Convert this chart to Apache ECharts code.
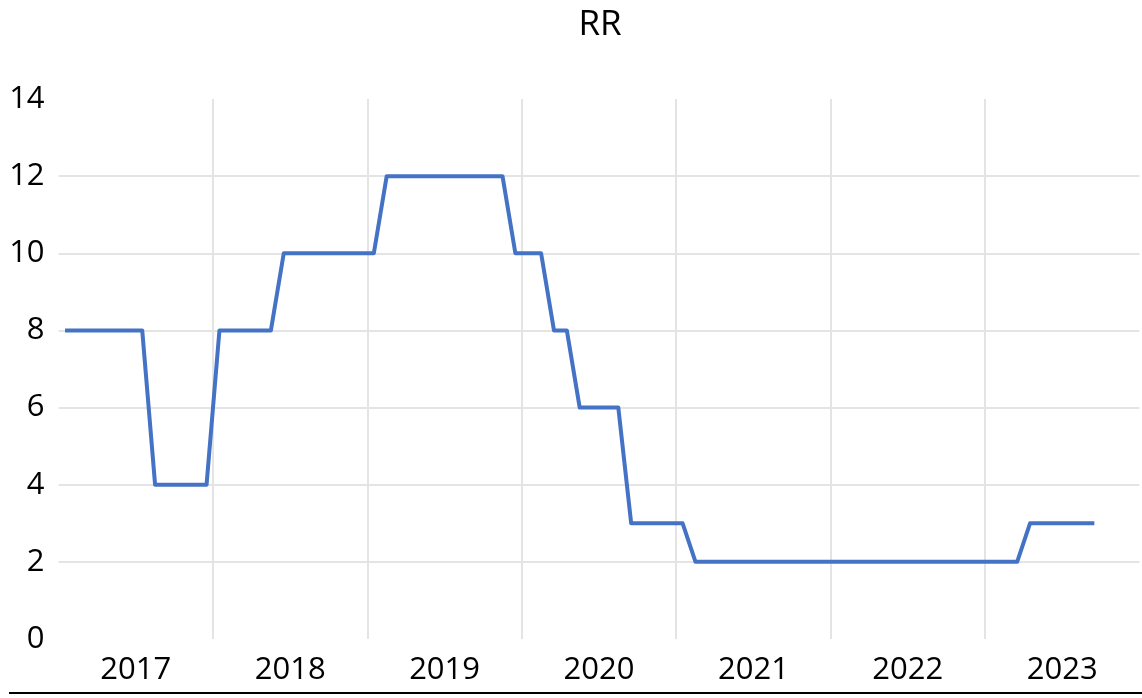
<!DOCTYPE html>
<html>
<head>
<meta charset="utf-8">
<title>RR</title>
<script src="https://cdn.jsdelivr.net/npm/echarts@6/dist/echarts.min.js"></script>
<style>
html, body { margin: 0; padding: 0; background: #fff; }
#chart { width: 1142px; height: 698px; position: relative; }
/* thin black rule at the bottom edge of the picture */
#rule { position: absolute; left: 9px; right: 0; top: 692px; height: 2px; background: #000; }
</style>
</head>
<body>
<div id="chart"></div>
<div id="rule"></div>
<script>
// year labels on the axis
var years = ['2017', '2018', '2019', '2020', '2021', '2022', '2023'];
// month categories (Jan 2017 .. Dec 2023)
var months = [];
years.forEach(function (y) {
  for (var m = 1; m <= 12; m++) months.push(y + '-' + (m < 10 ? '0' + m : m));
});
// RR, monthly, Jan 2017 .. Sep 2023
var rr = [
  8, 8, 8, 8, 8, 8, 8, 4, 4, 4, 4, 4,        // 2017
  8, 8, 8, 8, 8, 10, 10, 10, 10, 10, 10, 10, // 2018
  10, 12, 12, 12, 12, 12, 12, 12, 12, 12, 12, 10, // 2019
  10, 10, 8, 8, 6, 6, 6, 6, 3, 3, 3, 3,      // 2020
  3, 2, 2, 2, 2, 2, 2, 2, 2, 2, 2, 2,        // 2021
  2, 2, 2, 2, 2, 2, 2, 2, 2, 2, 2, 2,        // 2022
  2, 2, 2, 3, 3, 3, 3, 3, 3                  // 2023
];
var yTicks = { min: 0, max: 14, interval: 2 };

var font = '"Open Sans", "Liberation Sans", sans-serif';
var gridColor = '#e4e4e4';

var myChart = echarts.init(document.getElementById('chart'), null, { renderer: 'canvas' });
myChart.setOption({
  animation: false,
  title: {
    text: 'RR',
    left: 595,
    top: 3,
    textAlign: 'center',
    textStyle: { fontFamily: font, fontSize: 35, fontWeight: 'normal', color: '#000' }
  },
  grid: { left: 58.6, right: 2.6, top: 99, bottom: 59, containLabel: false },
  xAxis: [
    {
      // year axis: labels + vertical gridlines at year boundaries
      type: 'category',
      data: years,
      position: 'bottom',
      boundaryGap: true,
      axisLine: { show: false },
      axisTick: { show: false },
      axisLabel: { fontFamily: font, fontSize: 31, color: '#000', margin: 16 },
      splitLine: {
        show: true,
        showMinLine: false,
        showMaxLine: false,
        lineStyle: { color: gridColor, width: 2 }
      }
    },
    {
      // monthly axis the line is drawn on
      type: 'category',
      data: months,
      position: 'top',
      boundaryGap: true,
      show: false
    }
  ],
  yAxis: {
    type: 'value',
    min: yTicks.min,
    max: yTicks.max,
    interval: yTicks.interval,
    axisLine: { show: false },
    axisTick: { show: false },
    axisLabel: { fontFamily: font, fontSize: 31, color: '#000', margin: 14 },
    splitLine: {
      show: true,
      showMinLine: false,
      showMaxLine: false,
      lineStyle: { color: gridColor, width: 2 }
    }
  },
  series: [
    {
      name: 'RR',
      type: 'line',
      xAxisIndex: 1,
      data: rr,
      showSymbol: false,
      symbol: 'none',
      lineStyle: { color: '#4472C4', width: 4, join: 'round' },
      itemStyle: { color: '#4472C4' }
    }
  ]
});
</script>
</body>
</html>
